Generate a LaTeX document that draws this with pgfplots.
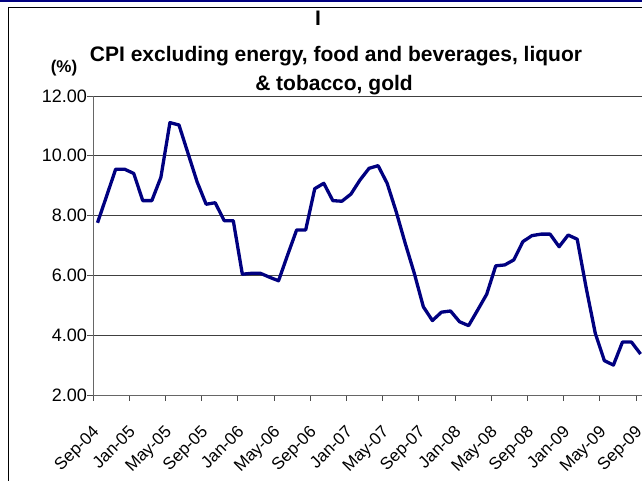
\documentclass[border=0pt]{standalone}
\usepackage{pgfplots}
\pgfplotsset{compat=1.18}
\usepackage{fontspec}
\setmainfont{Liberation Sans}
\definecolor{navyline}{RGB}{0,0,128}
\pgfplotstableread{
x y
0.5 7.76
1.5 8.65
2.5 9.55
3.5 9.55
4.5 9.41
5.5 8.50
6.5 8.50
7.5 9.28
8.5 11.11
9.5 11.03
10.5 10.08
11.5 9.13
12.5 8.38
13.5 8.43
14.5 7.83
15.5 7.83
16.5 6.04
17.5 6.07
18.5 6.07
19.5 5.94
20.5 5.82
21.5 6.68
22.5 7.52
23.5 7.52
24.5 8.90
25.5 9.08
26.5 8.50
27.5 8.48
28.5 8.72
29.5 9.19
30.5 9.58
31.5 9.67
32.5 9.08
33.5 8.13
34.5 7.07
35.5 6.07
36.5 4.95
37.5 4.49
38.5 4.77
39.5 4.81
40.5 4.45
41.5 4.32
42.5 4.84
43.5 5.37
44.5 6.32
45.5 6.35
46.5 6.52
47.5 7.13
48.5 7.33
49.5 7.38
50.5 7.38
51.5 6.96
52.5 7.35
53.5 7.21
54.5 5.57
55.5 4.06
56.5 3.15
57.5 3.00
58.5 3.77
59.5 3.77
60.5 3.37
}\cpidata
\begin{document}
\begin{tikzpicture}[x=1pt,y=1pt]
\path[use as bounding box] (0,0) rectangle (642,481);
\fill[white] (0,0) rectangle (642,481);
\draw[navyline, line width=2pt] (0,480) -- (642,480);
\draw[black, line width=1.5pt] (8.5,0) -- (8.5,473.5) -- (642,473.5);
\begin{axis}[
  at={(93pt,86pt)}, anchor=south west,
  scale only axis, width=549pt, height=299pt,
  xmin=0, xmax=60.66, ymin=2, ymax=12,
  axis x line*=bottom, axis y line*=left,
  axis line style={black!60, line width=0.9pt},
  xtick={0,4,...,60},
  xticklabels={Sep-04,Jan-05,May-05,Sep-05,Jan-06,May-06,Sep-06,Jan-07,May-07,Sep-07,Jan-08,May-08,Sep-08,Jan-09,May-09,Sep-09},
  ytick={2,4,...,12},
  tick align=outside, major tick length=6pt,
  tick style={black!70, line width=0.9pt},
  ymajorgrids, grid style={black!75, line width=0.9pt},
  yticklabel style={/pgf/number format/fixed, /pgf/number format/fixed zerofill, /pgf/number format/precision=2, font=\fontsize{18}{20}\selectfont, inner sep=1pt, xshift=1pt},
  /pgf/number format/assume math mode=true,
  xticklabel style={yshift=-23pt, xshift=-1.5pt, rotate=45, anchor=north east, font=\fontsize{17}{19}\selectfont, inner sep=0pt},
  clip=true,
]
\addplot[navyline, line width=3.3pt, line join=round, mark=none] table[x=x, y=y] {\cpidata};
\end{axis}
\node[font=\bfseries\fontsize{21}{23}\selectfont] at (318,463) {I};
\node[font=\bfseries\fontsize{21}{23}\selectfont] at (336,425) {CPI excluding energy, food and beverages, liquor};
\node[font=\bfseries\fontsize{21}{23}\selectfont] at (334,396) {\& tobacco, gold};
\node[font=\bfseries\fontsize{17}{19}\selectfont] at (64,413) {(\%)};
\end{tikzpicture}
\end{document}
